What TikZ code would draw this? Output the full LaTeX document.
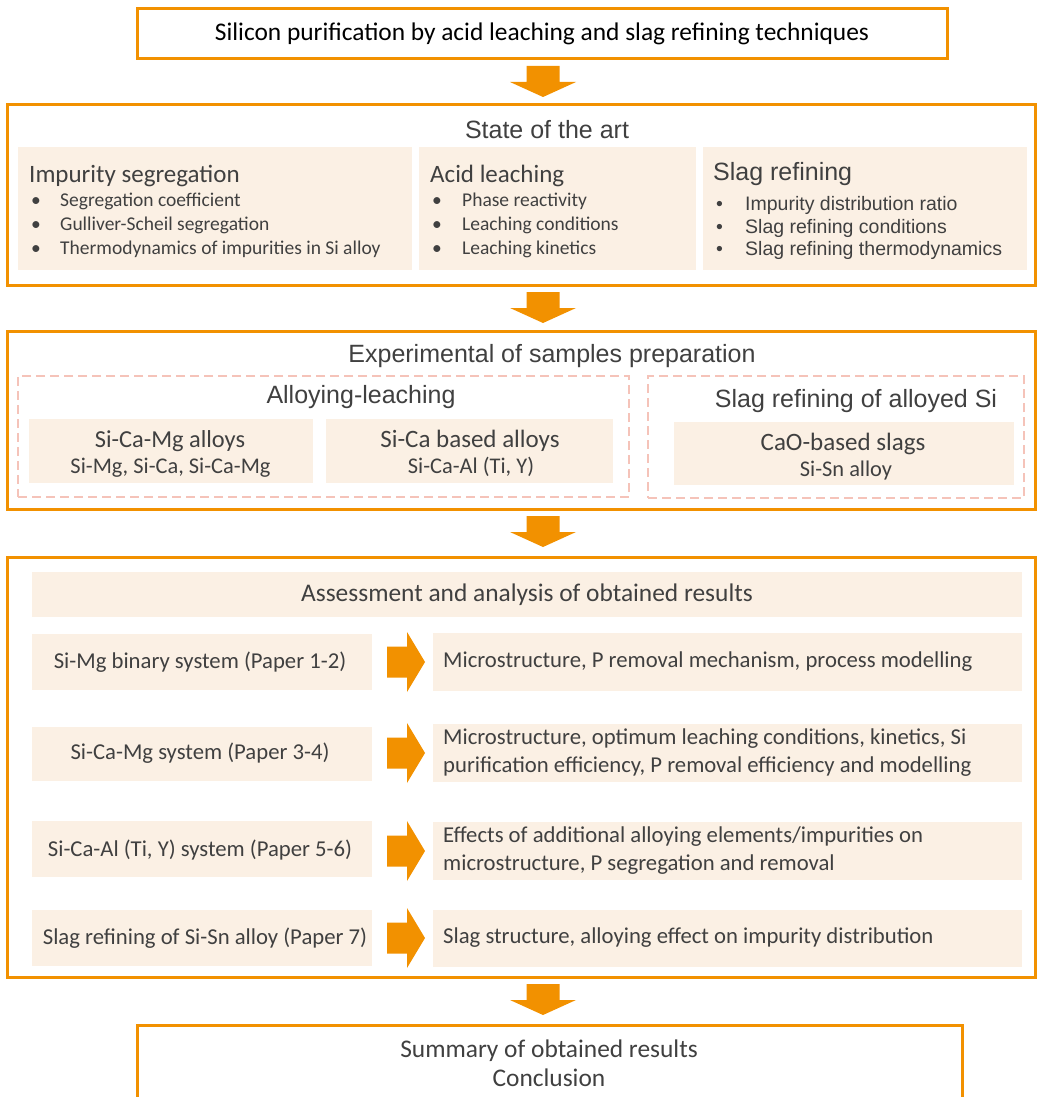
\documentclass[tikz,border=0pt]{standalone}
\usepackage{fontspec}
\setmainfont{Carlito}
\newfontfamily\arialfont{Liberation Sans}
\usetikzlibrary{positioning}
\definecolor{boxorange}{HTML}{F29100}
\definecolor{boxpeach}{HTML}{FBF0E4}
\definecolor{boxpink}{HTML}{F5C3B9}
\definecolor{txtgray}{HTML}{404040}
\newcommand{\bul}[2][29pt]{\makebox[#1][l]{\textbullet}#2}
\tikzset{
    outerbox/.style={draw=boxorange, line width=3pt, fill=white, inner sep=0pt},
    peachbox/.style={fill=boxpeach, inner sep=0pt},
    pinkbox/.style={draw=boxpink, line width=2.8pt, dash pattern=on 9pt off 5pt, inner sep=0pt},
    arhead/.style={font=\arialfont\fontsize{25}{30}\selectfont, text=txtgray, inner sep=0pt},
    arlist/.style={font=\arialfont\fontsize{19.5}{23}\selectfont, text=txtgray, inner sep=0pt, anchor=base west},
    calhead/.style={font=\fontsize{25}{30}\selectfont, text=txtgray, inner sep=0pt},
    callist/.style={font=\fontsize{19.5}{24}\selectfont, text=txtgray, inner sep=0pt, anchor=base west},
    caltxt/.style={font=\fontsize{22.7}{28}\selectfont, text=txtgray, inner sep=0pt, align=left},
    calbig/.style={font=\fontsize{25.4}{29}\selectfont, text=txtgray, inner sep=0pt},
}
\tikzset{
    downarr/.pic={
        \fill[boxorange] (-16.5,0) -- (16.5,0) -- (16.5,16) -- (33,16) -- (0,31) -- (-33,16) -- (-16.5,16) -- cycle;
    },
    rightarr/.pic={
        \fill[boxorange] (0,-15.5) -- (20,-15.5) -- (20,-30) -- (38,0) -- (20,30) -- (20,15.5) -- (0,15.5) -- cycle;
    }
}
\begin{document}
\begin{tikzpicture}[x=1pt, y=-1pt]
    \useasboundingbox (0,0) rectangle (1038,1097);
    % Cadre du titre
    \node[outerbox, minimum width=810, minimum height=50] (title) at (542,34) {};
    \node[calbig, text=black] (titletxt) at (542,34) {Silicon purification by acid leaching and slag refining techniques};
    \pic at (543,66) {downarr};
    % Etat de l'art
    \node[outerbox, minimum width=1028, minimum height=180] (soa) at (521,195) {};
    \node[arhead] (soatxt) at (547,130) {State of the art};
    \node[peachbox, minimum width=394, minimum height=123] (sega) at (215,208.5) {};
    \node[peachbox, minimum width=277, minimum height=123] (acidb) at (557.5,208.5) {};
    \node[peachbox, minimum width=324, minimum height=123] (slagc) at (865,208.5) {};
    \node[calhead, anchor=base west] (segh) at (29,182) {Impurity segregation};
    \node[callist] (seg1) at (31,206) {\bul{Segregation coefficient}};
    \node[callist] (seg2) at (31,230) {\bul{Gulliver-Scheil segregation}};
    \node[callist] (seg3) at (31,254) {\bul{Thermodynamics of impurities in Si alloy}};
    \node[calhead, anchor=base west] (acidh) at (430,182) {Acid leaching};
    \node[callist] (acid1) at (432,206) {\bul[30pt]{Phase reactivity}};
    \node[callist] (acid2) at (432,230) {\bul[30pt]{Leaching conditions}};
    \node[callist] (acid3) at (432,254) {\bul[30pt]{Leaching kinetics}};
    \node[arhead, anchor=base west] (slagh) at (713,180) {Slag refining};
    \node[arlist] (slag1) at (716,210) {\bul{Impurity distribution ratio}};
    \node[arlist] (slag2) at (716,233) {\bul{Slag refining conditions}};
    \node[arlist] (slag3) at (716,255) {\bul{Slag refining thermodynamics}};
    \pic at (543,292) {downarr};
    % Preparation des echantillons
    \node[outerbox, minimum width=1028, minimum height=178] (exp) at (521,420) {};
    \node[arhead, anchor=base] (exptxt) at (552,362) {Experimental of samples preparation};
    \node[pinkbox, minimum width=611, minimum height=121] (alloyl) at (323.5,436.5) {};
    \node[pinkbox, minimum width=376, minimum height=122] (slagr) at (836,437) {};
    \node[arhead, anchor=base] (alloyh) at (361,403) {Alloying-leaching};
    \node[arhead, anchor=base] (slagrh) at (856,407) {Slag refining of alloyed Si};
    \node[peachbox, minimum width=284, minimum height=64] (alloya) at (171,451) {};
    \node[peachbox, minimum width=287, minimum height=64] (alloyb) at (469.5,451) {};
    \node[peachbox, minimum width=340, minimum height=63] (slagfill) at (844,453.5) {};
    \node[calhead, font=\fontsize{24.4}{30}\selectfont, anchor=base] (alloya1) at (170,447) {Si-Ca-Mg alloys};
    \node[caltxt, font=\fontsize{22.4}{28}\selectfont, anchor=base] (alloya2) at (170.5,473) {Si-Mg, Si-Ca, Si-Ca-Mg};
    \node[calhead, anchor=base] (alloyb1) at (470,447) {Si-Ca based alloys};
    \node[caltxt, font=\fontsize{22.4}{28}\selectfont, anchor=base] (alloyb2) at (471,473) {Si-Ca-Al (Ti, Y)};
    \node[calhead, anchor=base] (slagf1) at (843,450) {CaO-based slags};
    \node[caltxt, font=\fontsize{22.4}{28}\selectfont, anchor=base] (slagf2) at (846,476) {Si-Sn alloy};
    \pic at (543,516) {downarr};
    % Resultats
    \node[outerbox, minimum width=1028, minimum height=420] (res) at (521,767) {};
    \node[peachbox, minimum width=990, minimum height=45] (resh) at (527,594.5) {};
    \node[calbig, anchor=base] (reshtxt) at (527,601) {Assessment and analysis of obtained results};
    % Lignes des articles
    \node[peachbox, minimum width=340, minimum height=56] (p1) at (202,662) {};
    \node[peachbox, minimum width=589, minimum height=58] (r1) at (727.5,662) {};
    \node[peachbox, minimum width=340, minimum height=54] (p2) at (202,753.5) {};
    \node[peachbox, minimum width=589, minimum height=58] (r2) at (727.5,753) {};
    \node[peachbox, minimum width=340, minimum height=56] (p3) at (202,849) {};
    \node[peachbox, minimum width=589, minimum height=58] (r3) at (727.5,851) {};
    \node[peachbox, minimum width=340, minimum height=56] (p4) at (202,938) {};
    \node[peachbox, minimum width=589, minimum height=57] (r4) at (727.5,938.5) {};
    \pic at (387,662) {rightarr};
    \pic at (387,753) {rightarr};
    \pic at (387,851) {rightarr};
    \pic at (387,938) {rightarr};
    \node[caltxt] (p1txt) at (200,662) {Si-Mg binary system (Paper 1-2)};
    \node[caltxt] (p2txt) at (200,753) {Si-Ca-Mg system (Paper 3-4)};
    \node[caltxt] (p3txt) at (200,850) {Si-Ca-Al (Ti, Y) system (Paper 5-6)};
    \node[caltxt] (p4txt) at (205,938) {Slag refining of Si-Sn alloy (Paper 7)};
    \node[caltxt, anchor=west] (r1txt) at (443,662) {Microstructure, P removal mechanism, process modelling};
    \node[caltxt, anchor=west] (r2txt) at (443,753) {Microstructure, optimum leaching conditions, kinetics, Si\\purification efficiency, P removal efficiency and modelling};
    \node[caltxt, anchor=west] (r3txt) at (443,851) {Effects of additional alloying elements/impurities on\\microstructure, P segregation and removal};
    \node[caltxt, anchor=west] (r4txt) at (443,938) {Slag structure, alloying effect on impurity distribution};
    \pic at (543,984) {downarr};
    % Conclusion
    \node[outerbox, minimum width=825, minimum height=100] (summ) at (549.5,1075) {};
    \node[calbig, anchor=base] (summ1) at (549,1057) {Summary of obtained results};
    \node[calbig, anchor=base] (summ2) at (549,1086) {Conclusion};
\end{tikzpicture}
\end{document}
